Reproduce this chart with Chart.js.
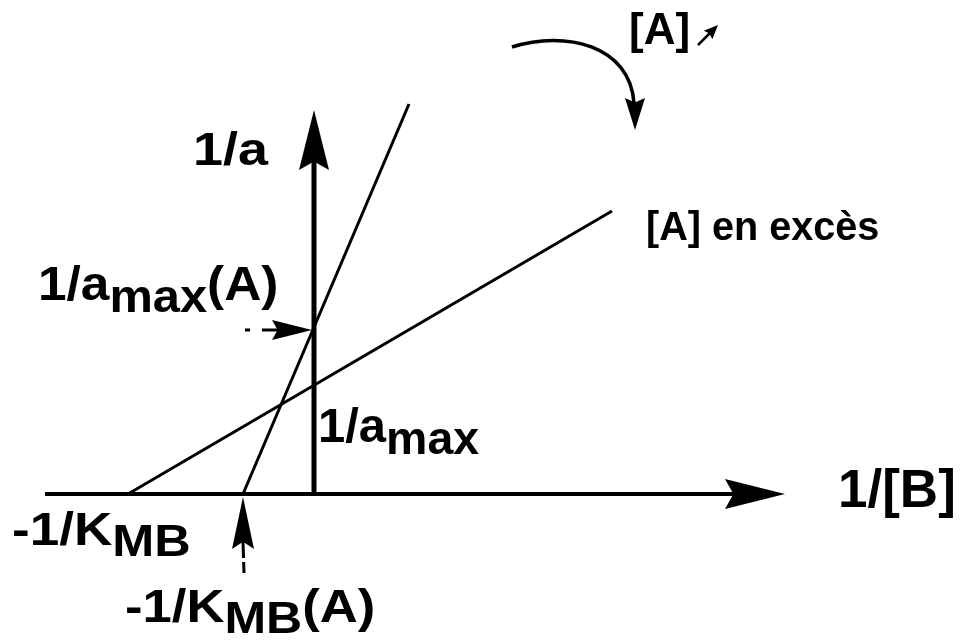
<!DOCTYPE html>
<html>
<head>
<meta charset="utf-8">
<script src="https://cdn.jsdelivr.net/npm/chart.js@4"></script>
<style>
  body { margin: 0; background: #fff; }
  canvas { display: block; }
</style>
</head>
<body>
<canvas id="lineweaver" width="965" height="641"></canvas>
<script>
// Lineweaver-Burk : 1/a en fonction de 1/[B]
const serieNames = ['[A] en excès', '[A] faible'];
const excesX = [-1.86, 2.98];
const excesY = [0, 2.83];
const faibleX = [-0.71, 0.95];
const faibleY = [0, 3.90];

// axes 1/[B] et 1/a
const axeX = [-2.69, 4.71];
const axeY = [0, 3.84];

// intercepts signalés par les flèches pointillées
const interceptAmaxA = 1.64;
const interceptKmbA = -0.71;

const toPoints = (xs, ys) => xs.map((x, i) => ({ x: x, y: ys[i] }));

// textes : [morceau, indice ?]
const labels = {
  a: [['1/a']],
  b: [['1/[B]']],
  excess: [['[A] en excès']],
  aUp: [['[A]']],
  amaxA: [['1/a'], ['max', true], ['(A)']],
  amax: [['1/a'], ['max', true]],
  kmb: [['-1/K'], ['MB', true]],
  kmbA: [['-1/K'], ['MB', true], ['(A)']]
};

// placement des textes (unités des axes), taille, étirement horizontal
const labelPos = [
  { key: 'aUp', x: 3.15, y: 4.50, size: 44, sx: 1.0 },
  { key: 'a', x: -1.21, y: 3.29, size: 46, sx: 1.17 },
  { key: 'excess', x: 3.32, y: 2.54, size: 40, sx: 0.99 },
  { key: 'amaxA', x: -2.76, y: 1.94, size: 48, sx: 1.07 },
  { key: 'amax', x: 0.04, y: 0.52, size: 48, sx: 1.02 },
  { key: 'b', x: 5.24, y: -0.13, size: 53, sx: 1.0 },
  { key: 'kmb', x: -3.02, y: -0.51, size: 47, sx: 1.13 },
  { key: 'kmbA', x: -1.89, y: -1.28, size: 47, sx: 1.12 }
];

function drawRich(ctx, x, y, parts, size, sx) {
  ctx.save();
  ctx.translate(x, y);
  ctx.scale(sx, 1);
  ctx.fillStyle = '#000';
  ctx.textBaseline = 'alphabetic';
  let cx = 0;
  parts.forEach(p => {
    const s = p[1] ? size * 0.95 : size;
    ctx.font = 'bold ' + s + 'px "Liberation Sans", Arial, sans-serif';
    ctx.fillText(p[0], cx, p[1] ? size * 0.24 : 0);
    cx += ctx.measureText(p[0]).width;
  });
  ctx.restore();
}

// pointe de flèche avec encoche à l'arrière
function drawHead(ctx, tx, ty, angle, len, half) {
  ctx.save();
  ctx.translate(tx, ty);
  ctx.rotate(angle);
  ctx.beginPath();
  ctx.moveTo(0, 0);
  ctx.lineTo(-len, -half);
  ctx.lineTo(-len * 0.86, 0);
  ctx.lineTo(-len, half);
  ctx.closePath();
  ctx.fill();
  ctx.restore();
}

const arrowsPlugin = {
  id: 'arrows',
  afterDatasetsDraw(chart) {
    const ctx = chart.ctx;
    const xs = chart.scales.x, ys = chart.scales.y;
    const px = v => xs.getPixelForValue(v);
    const py = v => ys.getPixelForValue(v);
    ctx.save();
    ctx.fillStyle = '#000';
    ctx.strokeStyle = '#000';
    ctx.lineCap = 'butt';

    // axe horizontal
    const y0 = py(0);
    ctx.lineWidth = 4;
    ctx.beginPath();
    ctx.moveTo(px(axeX[0]), y0);
    ctx.lineTo(px(axeX[1]) - 50, y0);
    ctx.stroke();
    drawHead(ctx, px(axeX[1]), y0, 0, 60, 15);

    // axe vertical
    const x0 = px(0);
    ctx.lineWidth = 5;
    ctx.beginPath();
    ctx.moveTo(x0, py(axeY[0]) + 2);
    ctx.lineTo(x0, py(axeY[1]) + 50);
    ctx.stroke();
    drawHead(ctx, x0, py(axeY[1]), -Math.PI / 2, 60, 15);

    // flèche pointillée vers 1/amax(A)
    ctx.lineWidth = 3;
    ctx.setLineDash([5, 12, 200]);
    ctx.beginPath();
    ctx.moveTo(px(-0.69), py(interceptAmaxA));
    ctx.lineTo(px(-0.02) - 30, py(interceptAmaxA));
    ctx.stroke();
    ctx.setLineDash([]);
    drawHead(ctx, px(-0.02), py(interceptAmaxA), 0, 40, 10);

    // flèche pointillée vers -1/KMB(A)
    ctx.setLineDash([11, 4, 200]);
    ctx.beginPath();
    ctx.moveTo(px(interceptKmbA + 0.01), py(-0.79));
    ctx.lineTo(px(interceptKmbA), py(-0.03) + 45);
    ctx.stroke();
    ctx.setLineDash([]);
    drawHead(ctx, px(interceptKmbA), py(-0.03), -Math.PI / 2, 52, 11);

    // flèche courbe : [A] augmente
    ctx.lineWidth = 3.5;
    ctx.beginPath();
    ctx.moveTo(px(1.98), py(4.47));
    ctx.bezierCurveTo(px(2.51), py(4.64), px(3.16), py(4.49), px(3.20), py(3.91));
    ctx.stroke();
    drawHead(ctx, px(3.21), py(3.64), Math.PI / 2, 32, 10);

    // petite flèche oblique après [A]
    ctx.lineWidth = 2.5;
    ctx.beginPath();
    ctx.moveTo(px(3.84), py(4.49));
    ctx.lineTo(px(3.98), py(4.63));
    ctx.stroke();
    drawHead(ctx, px(4.04), py(4.69), -Math.PI / 4, 14, 6);

    labelPos.forEach(l => drawRich(ctx, px(l.x), py(l.y), labels[l.key], l.size, l.sx));
    ctx.restore();
  }
};

new Chart(document.getElementById('lineweaver'), {
  type: 'scatter',
  data: {
    datasets: [
      { label: serieNames[0], data: toPoints(excesX, excesY) },
      { label: serieNames[1], data: toPoints(faibleX, faibleY) }
    ].map(d => Object.assign(d, {
      showLine: true,
      borderColor: '#000',
      borderWidth: 3,
      pointRadius: 0,
      fill: false
    }))
  },
  options: {
    responsive: false,
    animation: false,
    layout: { padding: 0 },
    plugins: { legend: { display: false }, tooltip: { enabled: false } },
    scales: {
      x: { type: 'linear', min: -3.14, max: 6.51, display: false },
      y: { type: 'linear', min: -1.47, max: 4.94, display: false }
    }
  },
  plugins: [arrowsPlugin]
});
</script>
</body>
</html>
